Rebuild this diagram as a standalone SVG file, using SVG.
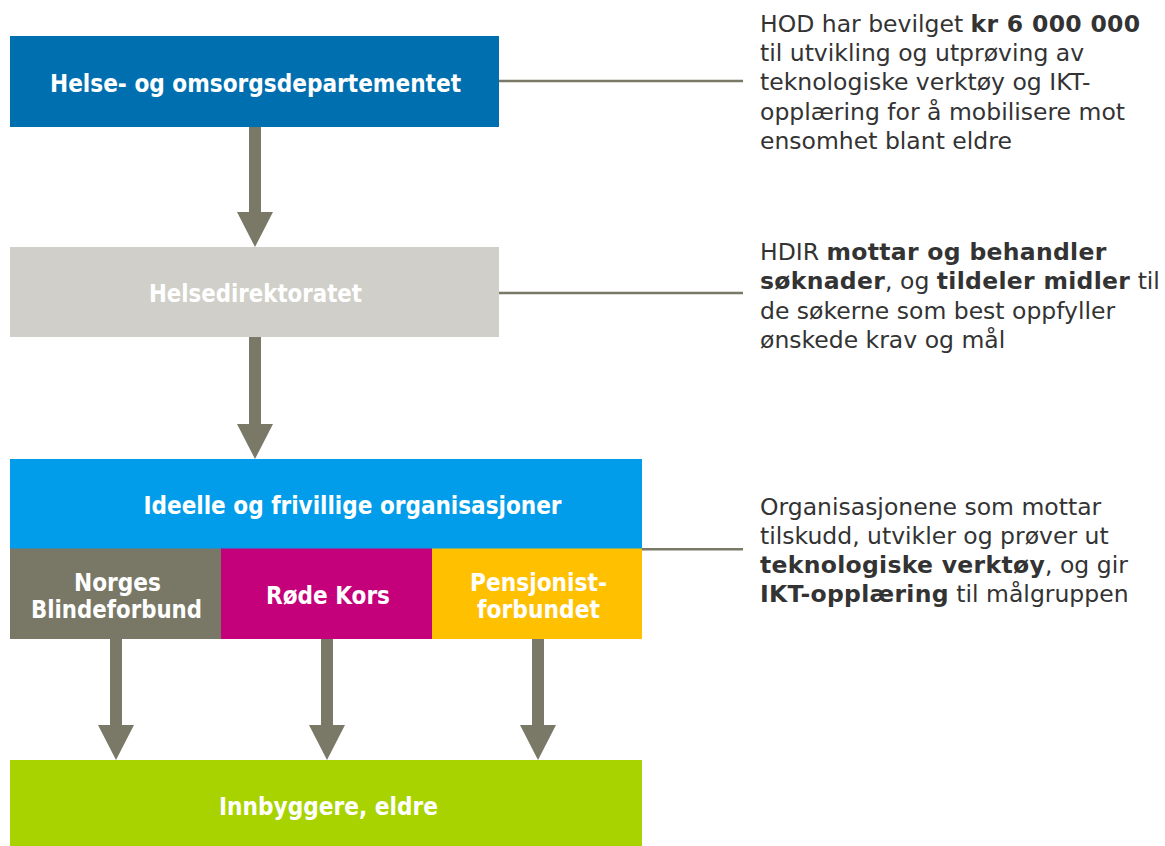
<svg xmlns="http://www.w3.org/2000/svg" width="1165" height="846" viewBox="0 0 1165 846">
<style>
.t{font-family:"DejaVu Sans","Liberation Sans",sans-serif;font-weight:bold;font-size:24px;font-stretch:condensed;fill:#ffffff;}
.d{font-family:"DejaVu Sans","Liberation Sans",sans-serif;font-size:23.5px;fill:#333333;}
.b{font-weight:bold;letter-spacing:0.3px;}
.ln{stroke:#7a7866;stroke-width:2.5;fill:none;}
.ar{fill:#7a7866;}
</style>
<rect width="1165" height="846" fill="#ffffff"/>
<g id="connectors">
<path class="ln" d="M499 81H743"/>
<path class="ln" d="M499 293H743"/>
<path class="ln" d="M642 549.3H743"/>
<path class="ar" d="M249 127H261V212H273L255 247L237 212H249Z"/>
<path class="ar" d="M249 337H261V424H273L255 459L237 424H249Z"/>
<path class="ar" d="M110 639H122V725H134L116 760L98 725H110Z"/>
<path class="ar" d="M321 639H333V725H345L327 760L309 725H321Z"/>
<path class="ar" d="M532 639H544V725H556L538 760L520 725H532Z"/>
</g>
<g id="hod">
<rect x="10" y="36" width="489" height="91" fill="#006fb0"/>
<text class="t" x="50" y="91.5" textLength="411" lengthAdjust="spacingAndGlyphs">Helse- og omsorgsdepartementet</text>
</g>
<g id="hdir">
<rect x="10" y="247" width="489" height="90" fill="#d0cfc9"/>
<text class="t" x="149" y="302.3" textLength="213" lengthAdjust="spacingAndGlyphs">Helsedirektoratet</text>
</g>
<g id="org">
<rect x="10" y="459" width="632" height="90" fill="#019dea"/>
<text class="t" x="143.5" y="514" textLength="418" lengthAdjust="spacingAndGlyphs">Ideelle og frivillige organisasjoner</text>
</g>
<g id="blindeforbund">
<rect x="10" y="548.5" width="211" height="90.5" fill="#797866"/>
<text class="t" x="74" y="590.7" textLength="87" lengthAdjust="spacingAndGlyphs">Norges</text>
<text class="t" x="31" y="618.3" textLength="171" lengthAdjust="spacingAndGlyphs">Blindeforbund</text>
</g>
<g id="rodekors">
<rect x="221" y="548.5" width="211" height="90.5" fill="#c4007a"/>
<text class="t" x="266" y="604" textLength="124" lengthAdjust="spacingAndGlyphs">Røde Kors</text>
</g>
<g id="pensjonist">
<rect x="432" y="548.5" width="210" height="90.5" fill="#ffc000"/>
<text class="t" x="470" y="590.7" textLength="137" lengthAdjust="spacingAndGlyphs">Pensjonist-</text>
<text class="t" x="477" y="618.3" textLength="123" lengthAdjust="spacingAndGlyphs">forbundet</text>
</g>
<g id="innbyggere">
<rect x="10" y="760" width="632" height="86" fill="#a8d300"/>
<text class="t" x="219" y="815" textLength="219" lengthAdjust="spacingAndGlyphs">Innbyggere, eldre</text>
</g>
<g id="note-hod">
<text class="d" x="760" y="32"><tspan>HOD har bevilget </tspan><tspan class="b">kr 6 000 000</tspan></text>
<text class="d" x="760" y="61.2">til utvikling og utprøving av</text>
<text class="d" x="760" y="90.4">teknologiske verktøy og IKT-</text>
<text class="d" x="760" y="119.6">opplæring for å mobilisere mot</text>
<text class="d" x="760" y="148.8">ensomhet blant eldre</text>
</g>
<g id="note-hdir">
<text class="d" x="760" y="260"><tspan>HDIR </tspan><tspan class="b">mottar og behandler</tspan></text>
<text class="d" x="760" y="289.3"><tspan class="b">søknader</tspan><tspan>, og </tspan><tspan class="b">tildeler midler</tspan><tspan> til</tspan></text>
<text class="d" x="760" y="318.6">de søkerne som best oppfyller</text>
<text class="d" x="760" y="347.9">ønskede krav og mål</text>
</g>
<g id="note-org">
<text class="d" x="760" y="515">Organisasjonene som mottar</text>
<text class="d" x="760" y="544">tilskudd, utvikler og prøver ut</text>
<text class="d" x="760" y="573"><tspan class="b">teknologiske verktøy</tspan><tspan>, og gir</tspan></text>
<text class="d" x="760" y="602"><tspan class="b">IKT-opplæring</tspan><tspan> til målgruppen</tspan></text>
</g>
</svg>
